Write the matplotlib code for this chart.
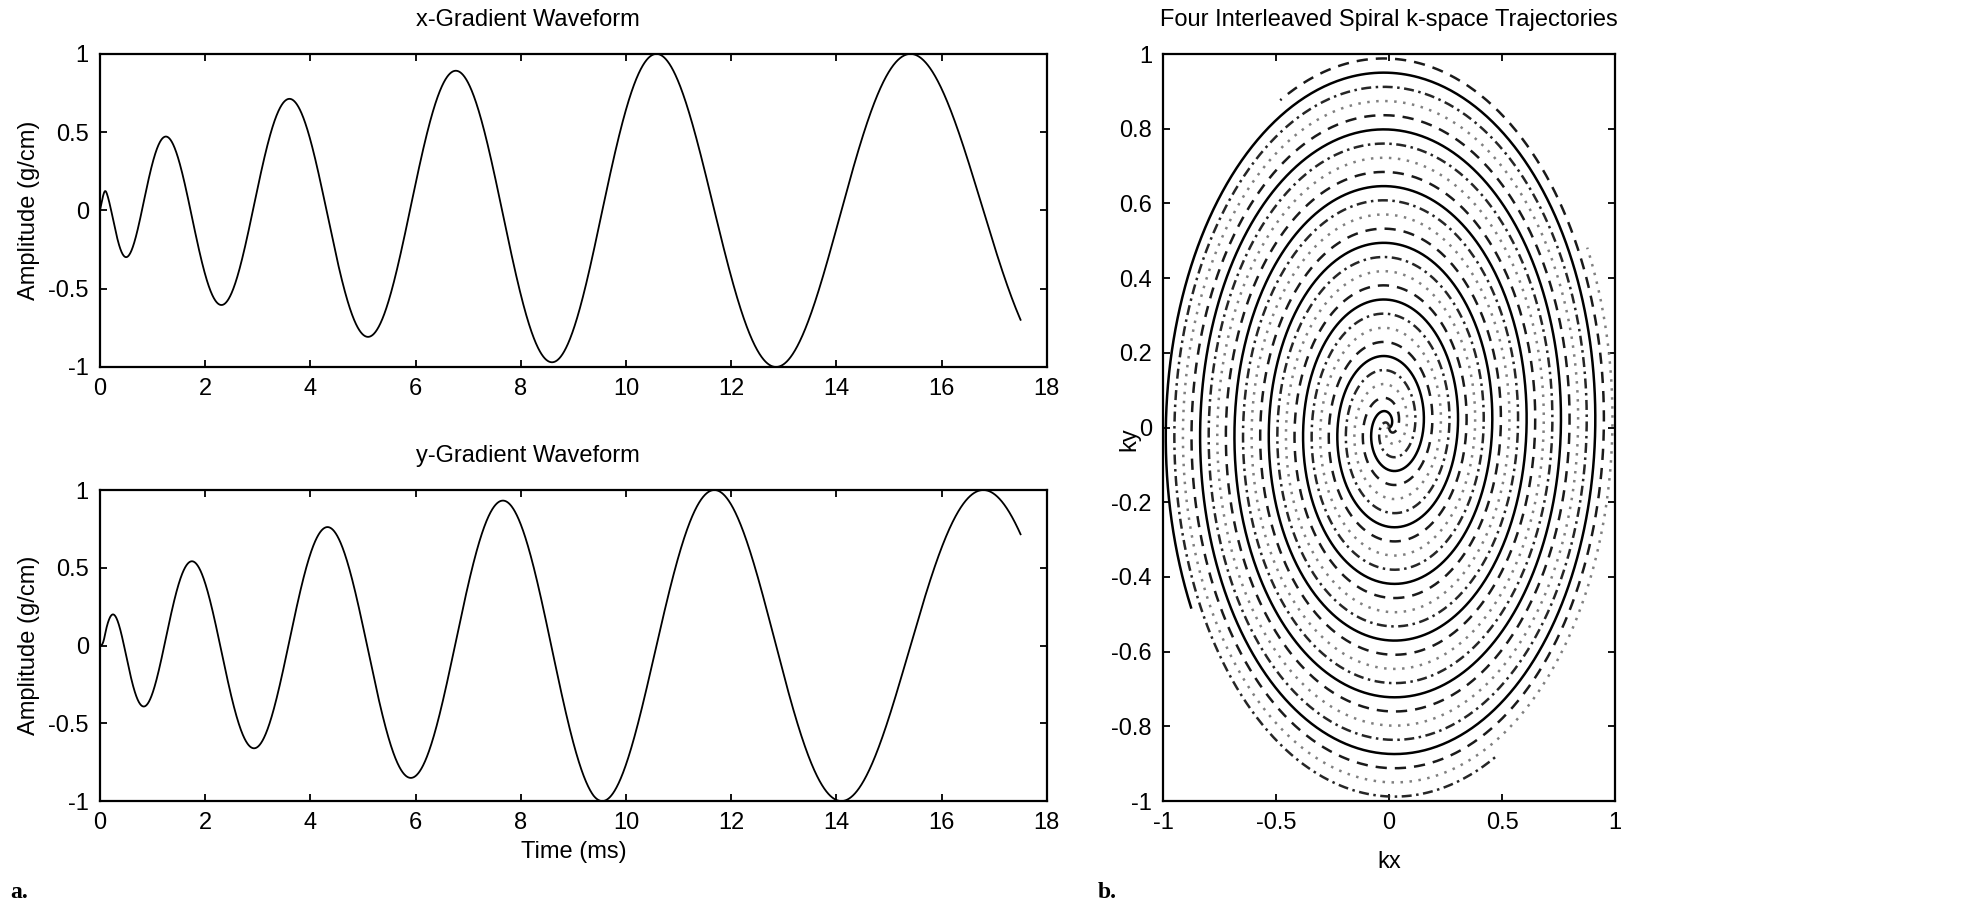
import numpy as np
import matplotlib.pyplot as plt

plt.rcParams['font.family'] = ['Liberation Sans', 'DejaVu Sans']
plt.rcParams['font.size'] = 17

# gradient design
readout_ms = 17.5      # length of the waveforms
g_max = 1.0            # peak gradient (g/cm)
slew_max = 1.6         # slew limit (g/cm/ms)
fov_cm = 5.2
n_interleaves = 4
gamma = 4.257          # kHz/G
raster_ms = 0.004

# spiral panel b
spiral_turns = 6.58
interleaf_angles_deg = [0, 90, 180, 270]
interleaf_styles = ['-', (0, (4, 1.8, 1, 1.8)), (0, (1, 2.6)), (0, (4.5, 3.2))]
interleaf_colors = ['black', '0.15', '0.5', '0.1']

time_ticks = [0, 2, 4, 6, 8, 10, 12, 14, 16, 18]
amp_ticks = [-1, -0.5, 0, 0.5, 1]
amp_labels = ['-1', '-0.5', '0', '0.5', '1']
kx_ticks = [-1, -0.5, 0, 0.5, 1]
kx_labels = ['-1', '-0.5', '0', '0.5', '1']
ky_ticks = [-1, -0.8, -0.6, -0.4, -0.2, 0, 0.2, 0.4, 0.6, 0.8, 1]
ky_labels = ['-1', '-0.8', '-0.6', '-0.4', '-0.2', '0', '0.2', '0.4', '0.6', '0.8', '1']

# slew / amplitude limited spiral design: k = lam * theta * exp(i theta)
lam = n_interleaves / (2 * np.pi * fov_cm)
wg = gamma * g_max / lam
ws = gamma * slew_max / lam
n = int(round(readout_ms / raster_ms)) + 1
theta = np.zeros(n)
omega = np.zeros(n)
for i in range(1, n):
    th, om = theta[i - 1], omega[i - 1]
    u = 1 + 1j * th
    v = om ** 2 * (2j - th)
    A = abs(u) ** 2
    B = (u * np.conj(v)).real
    C = abs(v) ** 2 - ws ** 2
    acc = (-B + np.sqrt(max(B * B - A * C, 0.0))) / A
    om = min(om + acc * raster_ms, wg / np.sqrt(1 + th * th))
    omega[i] = om
    theta[i] = th + om * raster_ms
t = np.arange(n) * raster_ms
grad = lam * omega * np.exp(1j * theta) * (1 + 1j * theta) / gamma

fig = plt.figure(figsize=(19.63, 9.22), dpi=100)


def style_axes(ax):
    for s in ax.spines.values():
        s.set_linewidth(1.6)
    ax.tick_params(direction='in', top=True, right=True, length=5, width=1.3, pad=8)


ax1 = fig.add_axes([0.0509, 0.602, 0.4824, 0.3395])
ax2 = fig.add_axes([0.0509, 0.1312, 0.4824, 0.3373])
for ax, y, title in [(ax1, grad.real, 'x-Gradient Waveform'), (ax2, grad.imag, 'y-Gradient Waveform')]:
    ax.plot(t, y, color='black', lw=1.3)
    ax.set_xlim(0, 18)
    ax.set_ylim(-1, 1)
    ax.set_xticks(time_ticks)
    ax.set_yticks(amp_ticks)
    ax.set_yticklabels(amp_labels)
    ax.set_ylabel('Amplitude (g/cm)', labelpad=6)
    ax.set_title(title, fontsize=17, pad=20, x=0.452)
    style_axes(ax)
ax2.set_xlabel('Time (ms)', labelpad=5)

ax3 = fig.add_axes([0.5925, 0.1312, 0.2303, 0.8102])
theta_max = 2 * np.pi * spiral_turns
th = np.linspace(0, theta_max, 4000)
r = th / theta_max
for ang, ls, col in zip(interleaf_angles_deg, interleaf_styles, interleaf_colors):
    a = th + np.deg2rad(ang)
    ax3.plot(r * np.cos(a), r * np.sin(a), color=col, lw=1.8, linestyle=ls)
ax3.set_xlim(-1, 1)
ax3.set_ylim(-1, 1)
ax3.set_xticks(kx_ticks)
ax3.set_xticklabels(kx_labels)
ax3.set_yticks(ky_ticks)
ax3.set_yticklabels(ky_labels)
ax3.set_xlabel('kx', labelpad=12)
ax3.set_ylabel('ky')
ax3.yaxis.set_label_coords(-0.05, 0.485)
ax3.set_title('Four Interleaved Spiral k-space Trajectories', fontsize=17, pad=20)
style_axes(ax3)

fig.text(0.005, 0.032, 'a.', family=['Liberation Serif', 'DejaVu Serif'], weight='bold', fontsize=17, va='center')
fig.text(0.559, 0.032, 'b.', family=['Liberation Serif', 'DejaVu Serif'], weight='bold', fontsize=17, va='center')

fig.savefig('out.png', dpi=100)
